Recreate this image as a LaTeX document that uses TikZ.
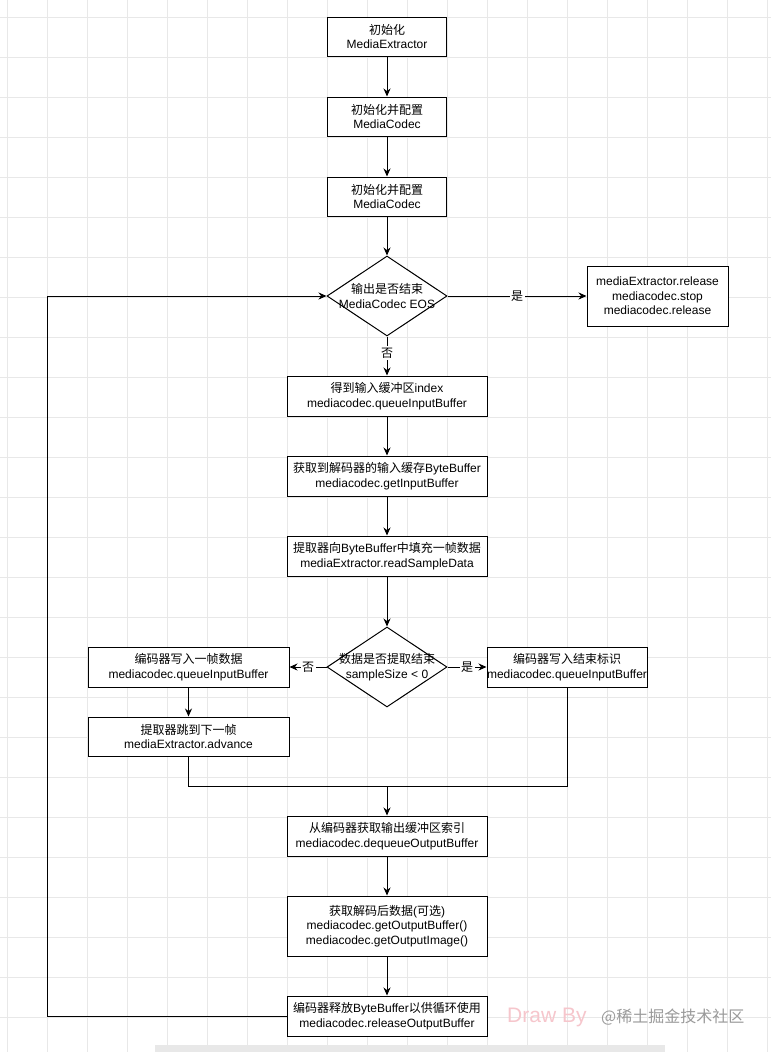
\documentclass[tikz,border=0pt]{standalone}
\usepackage{fontspec}
\setmainfont{Liberation Sans}
\newfontfamily\cjk{Noto Sans CJK SC}
\newcommand\zh[1]{{\cjk #1}}
\usetikzlibrary{arrows.meta,shapes.geometric,calc}
\definecolor{gridc}{HTML}{E8E8E8}
\definecolor{pinkw}{HTML}{F6C6CC}
\definecolor{grayw}{HTML}{9A9A9A}
\tikzset{
  box/.style={draw=black,line width=1pt,rectangle,inner sep=0pt,minimum width=200pt,minimum height=40pt,align=center,font=\fontsize{12}{14.5}\selectfont,fill=white},
  dia/.style={draw=black,line width=1pt,diamond,aspect=1.5,inner sep=0pt,minimum width=120pt,minimum height=80pt,fill=white},
  dtext/.style={align=center,font=\fontsize{12}{14.5}\selectfont,inner sep=0pt},
  arr/.style={line width=1pt,-{Stealth[length=8pt,width=7pt]}},
  ln/.style={line width=1pt},
  elabel/.style={fill=white,inner sep=1.5pt,font=\fontsize{12}{14}\selectfont}
}
\begin{document}
\begin{tikzpicture}[x=1pt,y=-1pt]
\useasboundingbox (0,0) rectangle (771,1052);
\fill[white] (0,0) rectangle (771,1052);
% grid
\foreach \x in {7,47,...,767} \draw[gridc,line width=0.8pt] (\x,0) -- (\x,1052);
\foreach \y in {17,57,...,1040} \draw[gridc,line width=0.8pt] (0,\y) -- (771,\y);
% scrollbar
\fill[gridc] (155,1045) rectangle (665,1052);

\node[box,minimum width=119pt,minimum height=39pt] (b1) at (387,36.5) {\zh{初始化}\\MediaExtractor};
\node[box,minimum width=119pt,minimum height=39pt] (b2) at (387,116.5) {\zh{初始化并配置}\\MediaCodec};
\node[box,minimum width=119pt,minimum height=39pt] (b3) at (387,196.5) {\zh{初始化并配置}\\MediaCodec};
\node[dia] (d1) at (387,296) {};
\node[dtext] (d1t) at (387,296) {\zh{输出是否结束}\\MediaCodec EOS};
\node[box,minimum width=141pt,minimum height=60pt] (rel) at (657.5,296) {mediaExtractor.release\\mediacodec.stop\\mediacodec.release};
\node[box] (b4) at (387,396) {\zh{得到输入缓冲区}index\\mediacodec.queueInputBuffer};
\node[box] (b5) at (387,476) {\zh{获取到解码器的输入缓存}ByteBuffer\\mediacodec.getInputBuffer};
\node[box] (b6) at (387,556) {\zh{提取器向}ByteBuffer\zh{中填充一帧数据}\\mediaExtractor.readSampleData};
\node[dia] (d2) at (387,667) {};
\node[dtext] (d2t) at (387,667) {\zh{数据是否提取结束}\\sampleSize < 0};
\node[box,minimum width=201pt] (bl1) at (188.5,667) {\zh{编码器写入一帧数据}\\mediacodec.queueInputBuffer};
\node[box,minimum width=201pt,minimum height=39pt] (bl2) at (188.5,736.5) {\zh{提取器跳到下一帧}\\mediaExtractor.advance};
\node[box,minimum width=160pt] (br) at (567,667) {\zh{编码器写入结束标识}\\mediacodec.queueInputBuffer};
\node[box] (b7) at (387,836) {\zh{从编码器获取输出缓冲区索引}\\mediacodec.dequeueOutputBuffer};
\node[box,minimum height=60pt] (b8) at (387,926) {\zh{获取解码后数据}(\zh{可选})\\mediacodec.getOutputBuffer()\\mediacodec.getOutputImage()};
\node[box] (b9) at (387,1016) {\zh{编码器释放}ByteBuffer\zh{以供循环使用}\\mediacodec.releaseOutputBuffer};

% connectors
\draw[arr] (b1) -- (b2);
\draw[arr] (b2) -- (b3);
\draw[arr] (b3) -- (d1);
\draw[arr] (d1.east) -- node[elabel]{\zh{是}} (rel.west);
\draw[arr] (d1.south) -- node[elabel,pos=0.42]{\zh{否}} (b4.north);
\draw[arr] (b4) -- (b5);
\draw[arr] (b5) -- (b6);
\draw[arr] (b6) -- (d2);
\draw[arr] (d2.west) -- node[elabel]{\zh{否}} (bl1.east);
\draw[arr] (d2.east) -- node[elabel]{\zh{是}} (br.west);
\draw[arr] (bl1) -- (bl2);
\coordinate (m) at (387,786);
\draw[ln] (bl2.south) |- (m);
\draw[ln] (br.south) |- (m);
\draw[arr] (m) -- (b7.north);
\draw[arr] (b7) -- (b8);
\draw[arr] (b8) -- (b9);
\coordinate (lb) at (47,1016);
\coordinate (lt) at (47,296);
\draw[arr] (b9.west) -- (lb) -- (lt) -- (d1.west);

% watermark
\node[text=pinkw,font=\fontsize{21}{21}\selectfont,anchor=west,inner sep=0pt] (wm1) at (507,1017) {Draw By};
\node[text=grayw,font=\cjk\fontsize{16}{16}\selectfont,anchor=west,inner sep=0pt] (wm2) at (601,1017) {@稀土掘金技术社区};
\end{tikzpicture}
\end{document}
